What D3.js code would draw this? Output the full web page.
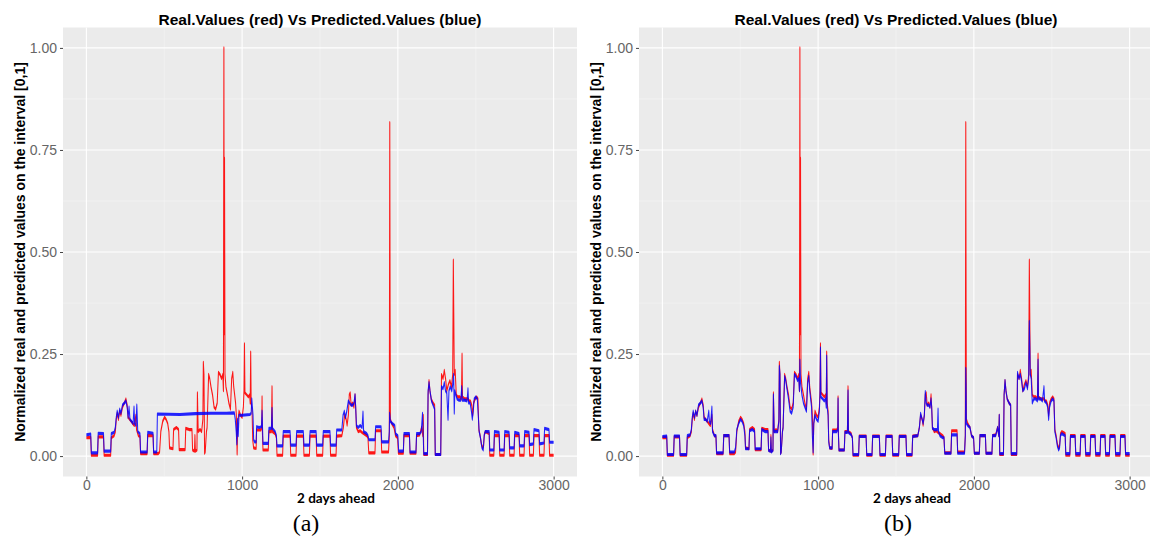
<!DOCTYPE html>
<meta charset="utf-8">
<style>
  body { margin: 0; background: #fff; }
  .tick text { font-family: "Liberation Sans", Arial, sans-serif; font-size: 14px; fill: #666; }
  .tick line { stroke: #444; }
  .domain { display: none; }
</style>
<body>
<script src="https://d3js.org/d3.v7.min.js"></script>
<script>
  // tick labels / text
  var chartTitle = "Real.Values (red) Vs Predicted.Values (blue)";
  var xTitle = "2 days ahead";
  var yTitle = "Normalized real and predicted values on the interval [0,1]";
  var panelTags = ["(a)", "(b)"];
  var xTicks = [0, 1000, 2000, 3000];
  var yTicks = [0, 0.25, 0.5, 0.75, 1];

  // real values (red), same in both panels : [step, value]
  var realValues = [[0,0.045],[28,0.046],[32,0.002],[72,0.002],[76,0.047],[110,0.047],[114,0.002],[156,0.002],[160,0.045],[178,0.05],[186,0.06],[192,0.09],[198,0.105],[206,0.09],[214,0.11],[222,0.1],[232,0.12],[244,0.13],[254,0.14],[262,0.125],[268,0.095],[278,0.09],[288,0.085],[298,0.08],[308,0.075],[318,0.1],[322,0.065],[334,0.05],[344,0.048],[348,0.006],[390,0.006],[394,0.05],[428,0.05],[432,0.006],[462,0.006],[470,0.01],[478,0.06],[490,0.085],[502,0.095],[512,0.09],[522,0.08],[530,0.06],[534,0.02],[556,0.018],[560,0.065],[578,0.07],[592,0.065],[596,0.016],[634,0.016],[638,0.068],[660,0.065],[678,0.065],[682,0.015],[694,0.012],[697,0.05],[700,0.012],[710,0.015],[713,0.155],[718,0.06],[730,0.065],[740,0.06],[748,0.09],[751,0.23],[755,0.2],[759,0.007],[763,0.01],[771,0.06],[775,0.07],[785,0.2],[792,0.19],[800,0.17],[810,0.15],[820,0.12],[830,0.115],[840,0.13],[848,0.205],[858,0.2],[868,0.19],[876,0.2],[880,0.16],[883,1.0],[885,0.3],[887,0.73],[890,0.2],[896,0.17],[906,0.15],[915,0.13],[925,0.115],[933,0.19],[940,0.205],[946,0.17],[952,0.15],[958,0.13],[963,0.1],[968,0.005],[972,0.08],[980,0.11],[990,0.1],[1000,0.095],[1008,0.12],[1012,0.16],[1015,0.275],[1018,0.155],[1030,0.15],[1040,0.145],[1048,0.15],[1052,0.13],[1055,0.255],[1058,0.13],[1064,0.11],[1068,0.04],[1074,0.02],[1090,0.019],[1093,0.064],[1120,0.064],[1126,0.07],[1128,0.145],[1130,0.06],[1134,0.015],[1168,0.015],[1172,0.06],[1188,0.06],[1192,0.17],[1195,0.06],[1212,0.055],[1220,0.045],[1224,0.002],[1260,0.002],[1264,0.049],[1308,0.049],[1312,0.002],[1346,0.002],[1350,0.049],[1393,0.049],[1397,0.002],[1432,0.002],[1436,0.049],[1475,0.049],[1479,0.002],[1517,0.002],[1521,0.049],[1564,0.049],[1568,0.002],[1603,0.002],[1607,0.049],[1640,0.05],[1650,0.07],[1658,0.1],[1668,0.09],[1674,0.076],[1682,0.1],[1688,0.15],[1694,0.155],[1700,0.125],[1710,0.13],[1718,0.12],[1725,0.15],[1729,0.12],[1734,0.07],[1745,0.06],[1758,0.062],[1770,0.058],[1782,0.055],[1800,0.05],[1808,0.045],[1813,0.008],[1853,0.008],[1857,0.062],[1892,0.062],[1896,0.01],[1940,0.01],[1945,0.05],[1948,0.817],[1950,0.37],[1952,0.09],[1960,0.08],[1975,0.07],[1985,0.05],[1998,0.045],[2003,0.007],[2035,0.007],[2039,0.05],[2074,0.05],[2078,0.007],[2116,0.007],[2120,0.05],[2140,0.052],[2152,0.07],[2160,0.05],[2163,0.1],[2166,0.004],[2190,0.004],[2194,0.15],[2200,0.185],[2206,0.16],[2214,0.14],[2226,0.13],[2236,0.125],[2240,0.004],[2275,0.004],[2280,0.2],[2290,0.19],[2298,0.21],[2306,0.19],[2314,0.16],[2324,0.175],[2334,0.185],[2344,0.17],[2352,0.2],[2356,0.48],[2359,0.34],[2362,0.2],[2368,0.21],[2375,0.15],[2385,0.145],[2398,0.145],[2408,0.14],[2412,0.25],[2415,0.145],[2430,0.14],[2440,0.14],[2450,0.14],[2458,0.135],[2466,0.135],[2474,0.125],[2480,0.1],[2486,0.13],[2496,0.14],[2506,0.145],[2514,0.14],[2520,0.065],[2528,0.05],[2536,0.03],[2544,0.02],[2550,0.025],[2556,0.055],[2564,0.06],[2586,0.055],[2590,0.002],[2616,0.002],[2620,0.05],[2650,0.05],[2654,0.002],[2682,0.002],[2686,0.05],[2714,0.05],[2718,0.002],[2746,0.002],[2750,0.05],[2778,0.05],[2782,0.002],[2810,0.002],[2814,0.05],[2842,0.05],[2846,0.002],[2870,0.002],[2874,0.05],[2906,0.05],[2910,0.002],[2938,0.002],[2942,0.05],[2970,0.05],[2974,0.002],[3000,0.002]];

  // predicted values, model (a)
  var predictedA = [[0,0.052],[28,0.054],[32,0.008],[72,0.008],[76,0.056],[110,0.055],[114,0.012],[156,0.012],[160,0.055],[178,0.058],[186,0.07],[192,0.095],[198,0.11],[206,0.095],[214,0.115],[222,0.105],[232,0.125],[244,0.13],[254,0.135],[262,0.12],[268,0.095],[274,0.12],[280,0.09],[290,0.085],[300,0.08],[306,0.12],[310,0.08],[318,0.075],[324,0.125],[330,0.06],[344,0.055],[348,0.01],[390,0.01],[394,0.058],[428,0.056],[432,0.01],[452,0.01],[456,0.103],[600,0.102],[700,0.104],[800,0.105],[900,0.105],[950,0.106],[956,0.09],[962,0.06],[966,0.03],[970,0.09],[975,0.05],[980,0.1],[1000,0.1],[1050,0.102],[1058,0.105],[1062,0.14],[1066,0.12],[1070,0.1],[1074,0.04],[1080,0.035],[1090,0.035],[1093,0.072],[1110,0.07],[1124,0.072],[1128,0.11],[1131,0.07],[1134,0.031],[1168,0.031],[1172,0.068],[1188,0.068],[1192,0.117],[1195,0.068],[1212,0.06],[1220,0.05],[1224,0.025],[1260,0.025],[1264,0.06],[1308,0.06],[1312,0.027],[1346,0.027],[1350,0.06],[1393,0.06],[1397,0.027],[1432,0.027],[1436,0.06],[1475,0.06],[1479,0.027],[1517,0.027],[1521,0.06],[1564,0.06],[1568,0.027],[1603,0.027],[1607,0.064],[1640,0.064],[1648,0.1],[1656,0.11],[1664,0.095],[1672,0.11],[1682,0.135],[1690,0.13],[1700,0.125],[1710,0.125],[1718,0.13],[1725,0.15],[1729,0.12],[1734,0.075],[1745,0.07],[1758,0.075],[1770,0.07],[1776,0.108],[1780,0.06],[1800,0.055],[1808,0.05],[1813,0.04],[1853,0.04],[1857,0.072],[1892,0.072],[1896,0.035],[1940,0.035],[1945,0.06],[1947,0.105],[1952,0.085],[1965,0.08],[1980,0.075],[1985,0.055],[2000,0.05],[2005,0.012],[2035,0.012],[2039,0.055],[2074,0.055],[2078,0.01],[2116,0.01],[2120,0.055],[2140,0.055],[2150,0.06],[2158,0.105],[2162,0.06],[2166,0.006],[2190,0.006],[2194,0.16],[2200,0.18],[2206,0.16],[2216,0.135],[2226,0.125],[2236,0.115],[2240,0.004],[2275,0.004],[2280,0.17],[2290,0.165],[2298,0.18],[2306,0.16],[2314,0.155],[2322,0.09],[2328,0.16],[2336,0.17],[2346,0.16],[2352,0.175],[2358,0.2],[2362,0.105],[2366,0.16],[2380,0.14],[2392,0.137],[2404,0.137],[2410,0.17],[2414,0.137],[2430,0.137],[2444,0.135],[2450,0.165],[2454,0.13],[2464,0.13],[2472,0.11],[2478,0.09],[2484,0.11],[2490,0.14],[2500,0.145],[2510,0.14],[2516,0.1],[2522,0.06],[2530,0.045],[2540,0.02],[2548,0.015],[2554,0.05],[2560,0.06],[2586,0.06],[2590,0.015],[2616,0.015],[2620,0.06],[2650,0.058],[2654,0.015],[2682,0.015],[2686,0.06],[2714,0.058],[2718,0.02],[2746,0.02],[2750,0.058],[2778,0.055],[2782,0.025],[2810,0.025],[2814,0.06],[2842,0.058],[2846,0.028],[2870,0.03],[2874,0.065],[2906,0.062],[2910,0.03],[2938,0.032],[2942,0.068],[2970,0.065],[2974,0.034],[3000,0.034]];

  // predicted values, model (b)
  var predictedB = [[0,0.048],[28,0.049],[32,0.004],[72,0.004],[76,0.049],[110,0.049],[114,0.004],[156,0.004],[160,0.05],[178,0.052],[186,0.065],[192,0.095],[198,0.11],[206,0.095],[214,0.11],[222,0.1],[232,0.125],[244,0.13],[254,0.135],[262,0.12],[268,0.09],[278,0.09],[288,0.085],[298,0.11],[302,0.085],[310,0.08],[318,0.12],[322,0.06],[334,0.05],[344,0.05],[348,0.008],[390,0.008],[394,0.05],[428,0.05],[432,0.01],[462,0.01],[470,0.02],[478,0.065],[490,0.08],[502,0.09],[512,0.085],[522,0.075],[530,0.05],[534,0.018],[556,0.018],[560,0.062],[578,0.065],[592,0.06],[596,0.018],[634,0.018],[638,0.065],[660,0.06],[678,0.06],[682,0.014],[694,0.012],[697,0.045],[700,0.01],[710,0.014],[713,0.15],[718,0.06],[730,0.06],[740,0.06],[748,0.085],[751,0.22],[755,0.2],[759,0.006],[763,0.01],[771,0.06],[775,0.07],[785,0.195],[792,0.185],[800,0.165],[810,0.14],[820,0.11],[830,0.105],[840,0.12],[848,0.2],[858,0.195],[868,0.185],[876,0.19],[880,0.16],[883,0.235],[887,0.18],[890,0.17],[896,0.15],[906,0.13],[915,0.12],[925,0.11],[933,0.18],[940,0.195],[946,0.16],[952,0.14],[958,0.12],[963,0.05],[968,0.01],[972,0.08],[980,0.1],[990,0.09],[1000,0.085],[1008,0.11],[1012,0.15],[1015,0.265],[1018,0.145],[1030,0.14],[1040,0.135],[1048,0.14],[1052,0.12],[1055,0.245],[1058,0.12],[1064,0.1],[1068,0.035],[1074,0.02],[1090,0.02],[1093,0.06],[1120,0.06],[1126,0.065],[1128,0.14],[1130,0.055],[1134,0.015],[1168,0.015],[1172,0.058],[1188,0.058],[1192,0.16],[1195,0.058],[1212,0.052],[1220,0.045],[1224,0.004],[1260,0.004],[1264,0.048],[1308,0.048],[1312,0.004],[1346,0.004],[1350,0.048],[1393,0.048],[1397,0.004],[1432,0.004],[1436,0.048],[1475,0.048],[1479,0.004],[1517,0.004],[1521,0.048],[1564,0.048],[1568,0.004],[1603,0.004],[1607,0.048],[1640,0.05],[1650,0.07],[1658,0.105],[1668,0.09],[1674,0.08],[1682,0.1],[1688,0.158],[1694,0.13],[1700,0.125],[1710,0.125],[1718,0.12],[1725,0.14],[1729,0.12],[1734,0.068],[1745,0.065],[1758,0.065],[1766,0.065],[1770,0.115],[1773,0.06],[1782,0.05],[1800,0.045],[1808,0.045],[1813,0.007],[1853,0.007],[1857,0.052],[1892,0.052],[1896,0.007],[1940,0.007],[1945,0.05],[1948,0.215],[1950,0.17],[1952,0.08],[1960,0.075],[1975,0.07],[1985,0.05],[1998,0.045],[2003,0.007],[2035,0.007],[2039,0.05],[2074,0.05],[2078,0.007],[2116,0.007],[2120,0.05],[2140,0.05],[2152,0.07],[2160,0.05],[2163,0.1],[2166,0.006],[2190,0.006],[2194,0.15],[2200,0.185],[2206,0.16],[2214,0.14],[2226,0.13],[2236,0.125],[2240,0.006],[2275,0.006],[2280,0.205],[2290,0.19],[2298,0.2],[2306,0.185],[2314,0.16],[2324,0.165],[2334,0.18],[2344,0.165],[2352,0.19],[2356,0.33],[2359,0.27],[2362,0.2],[2368,0.19],[2375,0.13],[2385,0.14],[2398,0.14],[2408,0.135],[2412,0.235],[2415,0.14],[2430,0.14],[2440,0.135],[2450,0.17],[2454,0.135],[2466,0.13],[2474,0.12],[2480,0.09],[2486,0.12],[2496,0.135],[2506,0.14],[2514,0.135],[2520,0.06],[2528,0.045],[2536,0.025],[2544,0.015],[2550,0.02],[2556,0.05],[2564,0.055],[2586,0.05],[2590,0.006],[2616,0.006],[2620,0.048],[2650,0.048],[2654,0.006],[2682,0.006],[2686,0.048],[2714,0.048],[2718,0.006],[2746,0.006],[2750,0.048],[2778,0.048],[2782,0.006],[2810,0.006],[2814,0.048],[2842,0.048],[2846,0.006],[2870,0.006],[2874,0.048],[2906,0.048],[2910,0.006],[2938,0.006],[2942,0.048],[2970,0.048],[2974,0.006],[3000,0.006]];

  var svg = d3.select("body").append("svg")
          .attr("width", 1150)
          .attr("height", 538);

  var panels = [
    {left: 63, tag: panelTags[0], pred: predictedA, yTitleX: 25, xTitleX: 336, tagX: 306},
    {left: 639, tag: panelTags[1], pred: predictedB, yTitleX: 601, xTitleX: 912, tagX: 898}
  ];

  var plotTop = 27.5, plotBottom = 476.5, plotW = 514;
  var ySq = 3; // lines drawn squashed then stretched: flat runs look thick, jumps thin

  panels.forEach(function(p) {
    var xScale = d3.scaleLinear().domain([-150, 3150]).range([p.left, p.left + plotW]);
    var yScale = d3.scaleLinear().domain([-0.05, 1.05]).range([plotBottom, plotTop]);

    var g = svg.append("g");

    g.append("rect")
            .attr("x", p.left).attr("y", plotTop)
            .attr("width", plotW).attr("height", plotBottom - plotTop)
            .attr("fill", "#EBEBEB");

    // minor grid
    g.selectAll(".gx-minor").data([500, 1500, 2500]).enter().append("line")
            .attr("x1", xScale).attr("x2", xScale).attr("y1", plotTop).attr("y2", plotBottom)
            .attr("stroke", "#F5F5F5").attr("stroke-width", 0.6);
    g.selectAll(".gy-minor").data([0.125, 0.375, 0.625, 0.875]).enter().append("line")
            .attr("x1", p.left).attr("x2", p.left + plotW).attr("y1", yScale).attr("y2", yScale)
            .attr("stroke", "#F5F5F5").attr("stroke-width", 0.6);
    // major grid
    g.selectAll(".gx").data(xTicks).enter().append("line")
            .attr("x1", xScale).attr("x2", xScale).attr("y1", plotTop).attr("y2", plotBottom)
            .attr("stroke", "#fff").attr("stroke-width", 1.1);
    g.selectAll(".gy").data(yTicks).enter().append("line")
            .attr("x1", p.left).attr("x2", p.left + plotW).attr("y1", yScale).attr("y2", yScale)
            .attr("stroke", "#fff").attr("stroke-width", 1.1);

    // axes
    g.append("g")
            .attr("transform", "translate(0," + plotBottom + ")")
            .call(d3.axisBottom(xScale).tickValues(xTicks).tickSize(3).tickPadding(1).tickFormat(d3.format("d")));
    g.append("g")
            .attr("transform", "translate(" + p.left + ",0)")
            .call(d3.axisLeft(yScale).tickValues(yTicks).tickSize(3).tickPadding(3).tickFormat(d3.format(".2f")));

    // series
    var ySmall = d3.scaleLinear().domain([-0.05, 1.05]).range([plotBottom / ySq, plotTop / ySq]);
    var line = d3.line()
            .x(function(d) { return xScale(d[0]); })
            .y(function(d) { return ySmall(d[1]); });

    var lines = g.append("g").attr("transform", "scale(1," + ySq + ")");
    lines.append("path")
            .datum(realValues)
            .attr("d", line)
            .attr("fill", "none")
            .attr("stroke", "#FF0000")
            .attr("stroke-width", 1.05)
            .attr("stroke-linejoin", "round")
            .attr("opacity", 0.9);
    lines.append("path")
            .datum(p.pred)
            .attr("d", line)
            .attr("fill", "none")
            .attr("stroke", "#0000FF")
            .attr("stroke-width", 1.05)
            .attr("stroke-linejoin", "round")
            .attr("opacity", 0.85);

    // titles
    svg.append("text")
            .attr("x", p.left + plotW / 2).attr("y", 24.5)
            .attr("text-anchor", "middle")
            .style("font-family", "Liberation Sans, Arial, sans-serif")
            .style("font-weight", "bold").style("font-size", "15.5px")
            .text(chartTitle);

    svg.append("text")
            .attr("transform", "translate(" + p.yTitleX + "," + ((plotTop + plotBottom) / 2) + ") rotate(-90)")
            .attr("text-anchor", "middle")
            .style("font-family", "Liberation Sans, Arial, sans-serif")
            .style("font-weight", "bold").style("font-size", "14px")
            .text(yTitle);

    svg.append("text")
            .attr("x", p.xTitleX).attr("y", 503)
            .attr("text-anchor", "middle")
            .style("font-family", "Lato, sans-serif")
            .style("font-weight", "bold").style("font-size", "13.5px")
            .text(xTitle);

    svg.append("text")
            .attr("x", p.tagX).attr("y", 531)
            .attr("text-anchor", "middle")
            .style("font-family", "Liberation Serif, Times New Roman, serif")
            .style("font-size", "24px")
            .text(p.tag);
  });
</script>
</body>
